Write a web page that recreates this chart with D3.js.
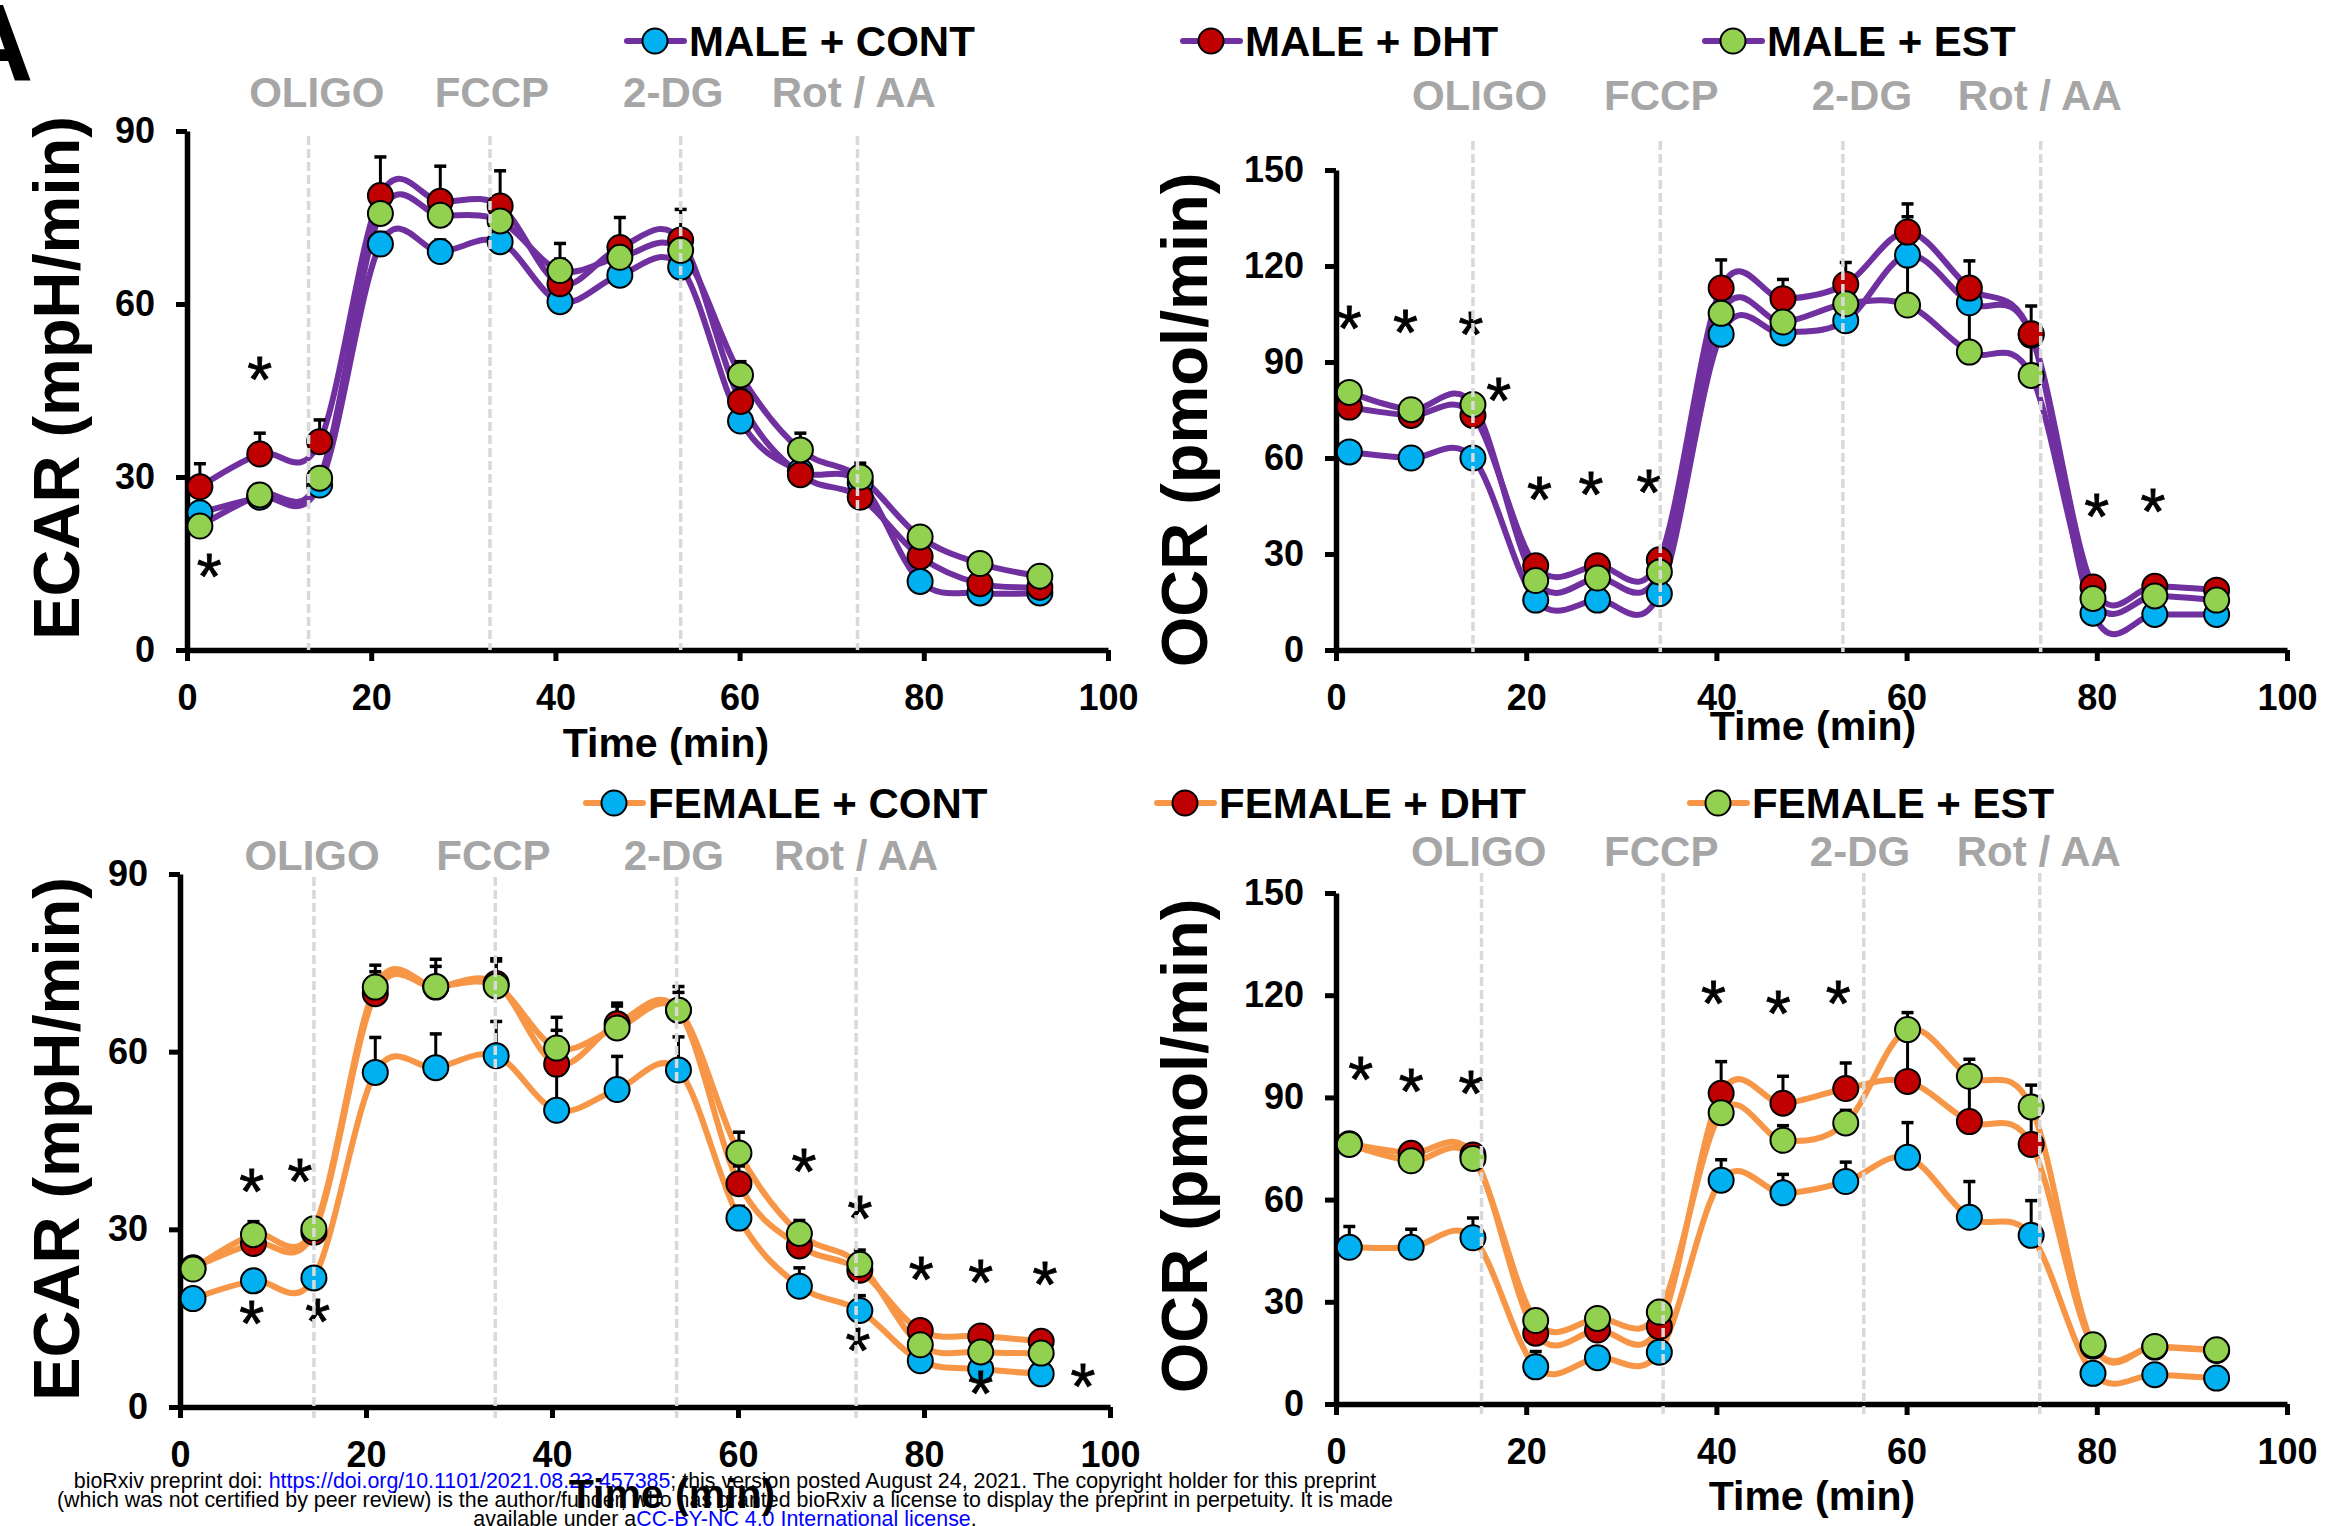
<!DOCTYPE html>
<html>
<head>
<meta charset="utf-8">
<script src="https://cdn.jsdelivr.net/npm/d3@7"></script>
<style>
  html, body { margin: 0; padding: 0; background: #ffffff; }
  svg { display: block; font-family: "Liberation Sans", Arial, Helvetica, sans-serif; }
</style>
</head>
<body>
<svg id="fig" width="2326" height="1526"></svg>
<script>
// ---------- measurement times (min) ----------
const timeMin = [1.4, 7.9, 14.4, 21.0, 27.5, 34.0, 40.5, 47.0, 53.6, 60.1, 66.6, 73.1, 79.6, 86.1, 92.6];

// ---------- ECAR, male ----------
const ecarMaleCont    = [23.8, 26.5, 28.6, 70.4, 69.1, 70.8, 60.4, 65.0, 66.4, 39.7, 31.0, 29.0, 11.9, 9.9, 9.9];
const ecarMaleDht     = [28.3, 34.0, 36.1, 78.8, 77.8, 77.0, 63.5, 69.8, 71.1, 43.1, 30.4, 26.5, 16.2, 11.5, 10.9];
const ecarMaleEst     = [21.5, 26.9, 29.8, 75.7, 75.4, 74.4, 65.8, 68.1, 69.3, 47.7, 34.7, 30.0, 19.6, 15.0, 12.8];
const ecarMaleContErr = [1.5, 1.5, 1.5, 2.0, 2.0, 2.0, 2.0, 2.0, 1.5, 1.5, 1.5, 1.5, 1.0, 1.0, 1.0];
const ecarMaleDhtErr  = [4.0, 3.6, 3.8, 6.7, 6.1, 6.1, 7.0, 5.2, 5.3, 2.0, 2.0, 2.0, 1.5, 1.0, 1.0];
const ecarMaleEstErr  = [1.5, 1.5, 1.5, 2.0, 2.0, 2.0, 2.0, 2.0, 2.0, 2.3, 2.9, 2.4, 1.5, 1.5, 1.0];
const ecarMaleStars   = [[7.9, 46.8], [2.4, 12.7]];

// ---------- OCR, male ----------
const ocrMaleCont    = [61.9, 60.0, 60.0, 15.6, 15.6, 17.6, 98.7, 99.1, 102.9, 123.4, 108.5, 98.4, 11.5, 11.1, 11.1];
const ocrMaleDht     = [75.9, 73.3, 73.3, 26.3, 26.3, 28.2, 113.1, 109.8, 114.3, 130.6, 113.1, 98.8, 19.7, 19.9, 18.7];
const ocrMaleEst     = [80.5, 75.1, 76.7, 21.7, 22.5, 24.4, 105.2, 102.5, 108.2, 107.8, 93.1, 85.8, 16.1, 16.9, 15.6];
const ocrMaleContErr = [2, 2, 2, 2, 2, 2, 3, 3, 3, 12, 3, 3, 1, 1, 1];
const ocrMaleDhtErr  = [3, 3, 3, 2, 2, 2, 8.8, 6.0, 6.8, 8.8, 8.5, 8.7, 1.5, 1.5, 1.5];
const ocrMaleEstErr  = [2, 2, 2, 2, 2, 2, 3, 3, 3, 16, 14, 13, 1.5, 1.5, 1.5];
const ocrMaleStars   = [[1.4, 100.2], [7.3, 99.2], [14.2, 98.3], [17.1, 77.9], [21.4, 47.0], [26.8, 48.5], [32.9, 49.1], [80.0, 41.6], [85.9, 43.2]];

// ---------- ECAR, female ----------
const ecarFemaleCont    = [18.3, 21.3, 21.8, 56.5, 57.3, 59.3, 50.1, 53.6, 56.9, 31.9, 20.4, 16.3, 7.8, 6.4, 5.6];
const ecarFemaleDht     = [23.5, 27.6, 29.5, 69.8, 70.9, 71.5, 57.9, 64.7, 67.0, 37.7, 27.2, 23.1, 12.9, 12.0, 11.1];
const ecarFemaleEst     = [23.3, 29.1, 30.1, 70.9, 71.0, 71.1, 60.6, 64.0, 67.0, 42.9, 29.3, 24.1, 10.5, 9.3, 9.1];
const ecarFemaleContErr = [1.5, 1.5, 1.5, 5.9, 5.7, 5.8, 6.0, 5.6, 5.6, 2.0, 3.1, 2.5, 1.0, 1.0, 1.0];
const ecarFemaleDhtErr  = [1.5, 2.0, 2.0, 3.7, 3.5, 3.8, 7.9, 3.0, 3.0, 3.0, 2.0, 2.0, 1.5, 1.5, 1.0];
const ecarFemaleEstErr  = [1.5, 2.2, 1.5, 3.7, 4.6, 4.6, 3.0, 4.2, 4.0, 3.5, 2.2, 2.4, 1.5, 1.5, 1.0];
const ecarFemaleStars   = [[7.7, 36.3], [12.9, 38.0], [7.7, 14.0], [14.8, 14.4], [67.1, 39.6], [73.1, 31.7], [72.9, 9.5], [79.7, 21.4], [86.1, 20.9], [93.0, 20.6], [86.1, 2.2], [97.1, 3.4]];

// ---------- OCR, female ----------
const ocrFemaleCont    = [46.0, 46.0, 48.8, 10.9, 13.6, 15.2, 65.7, 62.0, 65.3, 72.4, 54.8, 49.5, 9.0, 8.6, 7.6];
const ocrFemaleDht     = [76.4, 73.6, 73.1, 20.8, 21.7, 22.7, 91.2, 88.3, 92.6, 94.7, 82.9, 76.2, 17.0, 16.7, 15.7];
const ocrFemaleEst     = [76.2, 71.4, 72.1, 24.5, 25.1, 27.0, 85.5, 77.4, 82.5, 109.9, 96.2, 87.2, 17.4, 16.9, 15.9];
const ocrFemaleContErr = [6.1, 5.3, 5.8, 4.5, 3.0, 3.0, 6.0, 5.4, 5.7, 10.2, 10.5, 10.2, 1.5, 1.5, 1.5];
const ocrFemaleDhtErr  = [2, 2, 2, 2, 2, 2, 9.3, 7.9, 7.5, 14, 13, 10, 1.5, 1.5, 1.5];
const ocrFemaleEstErr  = [2, 2, 2, 2, 2, 2, 2, 4.3, 3.7, 5.0, 5.0, 6.4, 1.5, 1.5, 1.5];
const ocrFemaleStars   = [[2.6, 95.1], [7.9, 91.6], [14.2, 91.0], [39.7, 117.4], [46.5, 114.5], [52.8, 117.4]];

// ---------- injections (time of port injection, min) ----------
const injectionNames = ["OLIGO", "FCCP", "2-DG", "Rot / AA"];
const injMaleEcar   = [13.2, 32.9, 53.6, 72.8];
const injMaleOcr    = [14.4, 34.1, 53.3, 74.1];
const injFemaleEcar = [14.4, 33.9, 53.4, 72.7];
const injFemaleOcr  = [15.3, 34.4, 55.5, 74.0];
// label centres along the time axis
const injLabelMaleEcar   = [14.1, 33.1, 52.8, 72.4];
const injLabelMaleOcr    = [15.1, 34.2, 55.3, 74.0];
const injLabelFemaleEcar = [14.2, 33.7, 53.1, 72.7];
const injLabelFemaleOcr  = [15.0, 34.2, 55.1, 73.9];

// ---------- axes ----------
const xTicks = [0, 20, 40, 60, 80, 100];
const ecarTicks = [0, 30, 60, 90];
const ocrTicks = [0, 30, 60, 90, 120, 150];
const maleLegend = ["MALE + CONT", "MALE + DHT", "MALE + EST"];
const femaleLegend = ["FEMALE + CONT", "FEMALE + DHT", "FEMALE + EST"];

// ---------- styles ----------
const markerFill = ["#00b0f0", "#c00000", "#92d050"];
const maleLine = "#7030a0";
const femaleLine = "#f79646";
const injGray = "#a6a6a6";
const dashGray = "#d9d9d9";

const svg = d3.select("#fig");
const curve = d3.curveCardinal.tension(0);

function drawPanel(p) {
  const x = d3.scaleLinear().domain([0, 100]).range(p.xr);
  const y = d3.scaleLinear().domain([0, p.ymax]).range(p.yr);
  const g = svg.append("g");

  // axes
  const yAxis = d3.axisLeft(y).tickValues(p.yTicks).tickSize(11).tickSizeOuter(0).tickPadding(21);
  const xAxis = d3.axisBottom(x).tickValues(xTicks).tickSize(11).tickSizeOuter(0).tickPadding(23);
  const ya = g.append("g").attr("transform", `translate(${p.xr[0]},0)`).call(yAxis);
  const xa = g.append("g").attr("transform", `translate(0,${p.yr[0]})`).call(xAxis);
  [ya, xa].forEach(a => {
    a.select(".domain").attr("stroke", "#000").attr("stroke-width", 5.5);
    a.selectAll(".tick line").attr("stroke", "#000").attr("stroke-width", 5);
    a.selectAll(".tick text").attr("fill", "#000").style("font-size", "36px").style("font-weight", "bold")
      .style("font-family", '"Liberation Sans", Arial, sans-serif');
  });

  // series lines
  const line = d3.line().x((d, i) => x(timeMin[i])).y(d => y(d)).curve(curve);
  p.series.forEach(s => {
    g.append("path").attr("d", line(s.v)).attr("fill", "none")
      .attr("stroke", p.lineColor).attr("stroke-width", 6)
      .attr("stroke-linejoin", "round").attr("stroke-linecap", "round");
  });

  // error bars (upper)
  p.series.forEach(s => {
    const eb = g.append("g").attr("stroke", "#000").attr("stroke-width", 3);
    s.v.forEach((v, i) => {
      const cx = x(timeMin[i]), y0 = y(v), y1 = y(v + s.e[i]);
      eb.append("line").attr("x1", cx).attr("x2", cx).attr("y1", y0).attr("y2", y1);
      eb.append("line").attr("x1", cx - 6).attr("x2", cx + 6).attr("y1", y1).attr("y2", y1).attr("stroke-width", 3.5);
    });
  });

  // markers
  p.series.forEach((s, k) => {
    g.append("g").selectAll("circle").data(s.v).join("circle")
      .attr("cx", (d, i) => x(timeMin[i])).attr("cy", d => y(d)).attr("r", 12.5)
      .attr("fill", markerFill[k]).attr("stroke", "#000").attr("stroke-width", 2);
  });

  // significance asterisks
  p.stars.forEach(([t, v]) => {
    const txt = g.append("text").text("*").attr("x", 0).attr("y", 0)
      .style("font-size", "64px").attr("fill", "#000").attr("stroke", "#000").attr("stroke-width", 0.8)
      .attr("text-anchor", "middle");
    const b = txt.node().getBBox();
    txt.attr("x", x(t)).attr("y", y(v) - (b.y + b.height / 2));
  });

  // injection markers (dashed verticals)
  p.inj.forEach(t => {
    g.append("line").attr("x1", x(t)).attr("x2", x(t))
      .attr("y1", p.dashTop).attr("y2", p.yr[0] + p.dashBelow)
      .attr("stroke", dashGray).attr("stroke-width", 3.5).attr("stroke-dasharray", "9,4");
  });

  // injection labels
  p.injLabels.forEach((t, i) => {
    g.append("text").text(injectionNames[i]).attr("x", x(t)).attr("y", p.injBaseline)
      .attr("text-anchor", "middle").attr("fill", injGray)
      .style("font-size", "42px").style("font-weight", "bold");
  });

  // axis titles
  g.append("text").text(p.yTitle)
    .attr("transform", `translate(${p.yTitleX},${p.yTitleY}) rotate(-90)`)
    .attr("text-anchor", "middle").attr("fill", "#000")
    .style("font-size", "65px").style("font-weight", "bold");
  g.append("text").text("Time (min)").attr("x", p.xTitleX).attr("y", p.xTitleY)
    .attr("text-anchor", "middle").attr("fill", "#000")
    .style("font-size", "41px").style("font-weight", "bold");
}

function drawLegend(labels, positions, cy, color) {
  const g = svg.append("g");
  labels.forEach((lab, k) => {
    const mx = positions[k];
    g.append("line").attr("x1", mx - 28).attr("x2", mx + 29).attr("y1", cy).attr("y2", cy)
      .attr("stroke", color).attr("stroke-width", 6).attr("stroke-linecap", "round");
    g.append("circle").attr("cx", mx).attr("cy", cy).attr("r", 12.5)
      .attr("fill", markerFill[k]).attr("stroke", "#000").attr("stroke-width", 2);
    g.append("text").text(lab).attr("x", mx + 34).attr("y", cy + 15)
      .attr("fill", "#000").style("font-size", "42px").style("font-weight", "bold");
  });
}

// preprint notice along the bottom edge
const footer = svg.append("g").style("font-size", "21.4px").attr("text-anchor", "middle");
const f1 = footer.append("text").attr("x", 725).attr("y", 1488);
f1.append("tspan").text("bioRxiv preprint doi: ");
f1.append("tspan").attr("fill", "#0000ff").text("https://doi.org/10.1101/2021.08.23.457385");
f1.append("tspan").text("; this version posted August 24, 2021. The copyright holder for this preprint");
footer.append("text").attr("x", 725).attr("y", 1507)
  .text("(which was not certified by peer review) is the author/funder, who has granted bioRxiv a license to display the preprint in perpetuity. It is made");
const f3 = footer.append("text").attr("x", 725).attr("y", 1526);
f3.append("tspan").text("available under a");
f3.append("tspan").attr("fill", "#0000ff").text("CC-BY-NC 4.0 International license");
f3.append("tspan").text(".");

const panels = [
  { xr: [187, 1108], yr: [650, 131], ymax: 90, yTicks: ecarTicks, lineColor: maleLine,
    series: [{ v: ecarMaleCont, e: ecarMaleContErr }, { v: ecarMaleDht, e: ecarMaleDhtErr }, { v: ecarMaleEst, e: ecarMaleEstErr }],
    stars: ecarMaleStars, inj: injMaleEcar, injLabels: injLabelMaleEcar, injBaseline: 107,
    dashTop: 136, dashBelow: 0, yTitle: "ECAR (mpH/min)", yTitleX: 79, yTitleY: 378, xTitleX: 666, xTitleY: 757 },
  { xr: [1336, 2287], yr: [650, 170], ymax: 150, yTicks: ocrTicks, lineColor: maleLine,
    series: [{ v: ocrMaleCont, e: ocrMaleContErr }, { v: ocrMaleDht, e: ocrMaleDhtErr }, { v: ocrMaleEst, e: ocrMaleEstErr }],
    stars: ocrMaleStars, inj: injMaleOcr, injLabels: injLabelMaleOcr, injBaseline: 110,
    dashTop: 141, dashBelow: 2, yTitle: "OCR (pmol/min)", yTitleX: 1207, yTitleY: 420, xTitleX: 1813, xTitleY: 740 },
  { xr: [180, 1110], yr: [1407, 874], ymax: 90, yTicks: ecarTicks, lineColor: femaleLine,
    series: [{ v: ecarFemaleCont, e: ecarFemaleContErr }, { v: ecarFemaleDht, e: ecarFemaleDhtErr }, { v: ecarFemaleEst, e: ecarFemaleEstErr }],
    stars: ecarFemaleStars, inj: injFemaleEcar, injLabels: injLabelFemaleEcar, injBaseline: 870,
    dashTop: 877, dashBelow: 11, yTitle: "ECAR (mpH/min)", yTitleX: 79, yTitleY: 1139, xTitleX: 672, xTitleY: 1508 },
  { xr: [1336, 2287], yr: [1404, 893], ymax: 150, yTicks: ocrTicks, lineColor: femaleLine,
    series: [{ v: ocrFemaleCont, e: ocrFemaleContErr }, { v: ocrFemaleDht, e: ocrFemaleDhtErr }, { v: ocrFemaleEst, e: ocrFemaleEstErr }],
    stars: ocrFemaleStars, inj: injFemaleOcr, injLabels: injLabelFemaleOcr, injBaseline: 866,
    dashTop: 873, dashBelow: 10, yTitle: "OCR (pmol/min)", yTitleX: 1207, yTitleY: 1146, xTitleX: 1812, xTitleY: 1510 }
];
panels.forEach(drawPanel);

drawLegend(maleLegend, [655, 1211, 1733], 41, maleLine);
drawLegend(femaleLegend, [614, 1185, 1718], 803, femaleLine);

// panel letter
svg.append("text").text("A").attr("x", -46).attr("y", 80).attr("fill", "#000")
  .style("font-size", "110px").style("font-weight", "bold");
</script>
</body>
</html>
